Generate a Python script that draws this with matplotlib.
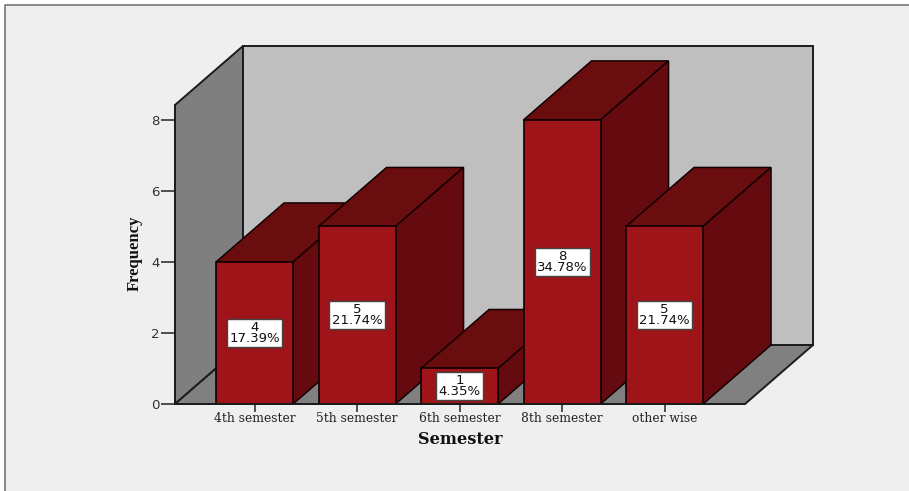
import matplotlib
matplotlib.use("Agg")
import matplotlib.pyplot as plt
from matplotlib.patches import Rectangle
from matplotlib.lines import Line2D

categories = ["4th semester", "5th semester", "6th semester", "8th semester", "other wise"]
counts = [4, 5, 1, 8, 5]
percents = ["17.39%", "21.74%", "4.35%", "34.78%", "21.74%"]
y_ticks = [0, 2, 4, 6, 8]

W, H = 909, 491
# axes box in pixels (front plane of the 3D box)
L, R, T, B = 175, 745, 105, 404
DX_PX, DY_PX = 68, 59
XMIN, XMAX = -0.776, 4.785
YMAX = 8.42
BAR_W = 77 / 102.5

FRONT, SIDE, TOP = "#9e1418", "#650b0f", "#6a0d0f"
WALL_L, WALL_B, FLOOR = "#7f7f7f", "#bfbfbf", "#808080"
EDGE = "#1c1c1c"

fig = plt.figure(figsize=(W / 100, H / 100), dpi=100, facecolor="white")
fig.add_artist(Rectangle((5 / W, 0), (W - 5) / W, (H - 5) / H, transform=fig.transFigure,
                         facecolor="#efefef", edgecolor="none", zorder=-5))
fig.add_artist(Line2D([5 / W, 5 / W, 1], [0, 1 - 5 / H, 1 - 5 / H], transform=fig.transFigure,
                      color="#6a6a6a", linewidth=1.1, zorder=-4))
ax = fig.add_axes([L / W, 1 - B / H, (R - L) / W, (B - T) / H])
ax.set_xlim(XMIN, XMAX)
ax.set_ylim(0, YMAX)
ax.patch.set_visible(False)

dx = DX_PX * (XMAX - XMIN) / (R - L)
dy = DY_PX * YMAX / (B - T)


def poly(xs, ys, fc, ec=EDGE, lw=1.4):
    ax.fill(xs, ys, facecolor=fc, edgecolor=ec, linewidth=lw, clip_on=False, joinstyle="miter")


# walls and floor
poly([XMIN, XMIN + dx, XMIN + dx, XMIN], [0, dy, YMAX + dy, YMAX], WALL_L)
poly([XMIN + dx, XMAX + dx, XMAX + dx, XMIN + dx], [dy, dy, YMAX + dy, YMAX + dy], WALL_B)
poly([XMIN, XMAX, XMAX + dx, XMIN + dx], [0, 0, dy, dy], FLOOR)

# bars, painted left to right so that each front hides its neighbour's side
for i, v in enumerate(counts):
    a, b = i - BAR_W / 2, i + BAR_W / 2
    poly([a, b, b + dx, a + dx], [v, v, v + dy, v + dy], TOP, ec="#120000", lw=1.1)
    poly([b, b + dx, b + dx, b], [0, dy, v + dy, v], SIDE, ec="#120000", lw=1.1)
    ax.bar(i, v, width=BAR_W, color=FRONT, edgecolor="#120000", linewidth=1.2, clip_on=False,
           zorder=2)
    ax.text(i, v / 2, f"{v}\n{percents[i]}", ha="center", va="center", fontsize=9.5,
            family="DejaVu Sans", linespacing=0.8, color="#111111", zorder=6,
            bbox=dict(boxstyle="square,pad=0.17", facecolor="white", edgecolor="#444444", linewidth=1.0))

for s in ("top", "right"):
    ax.spines[s].set_visible(False)
for s in ("left", "bottom"):
    ax.spines[s].set_color(EDGE)
    ax.spines[s].set_linewidth(1.4)

ax.set_xticks(range(len(categories)), categories, family="DejaVu Serif", fontsize=8.8, color="#222222")
ax.set_yticks(y_ticks)
ax.tick_params(axis="y", length=10, width=1.2, color="#333333", labelsize=9.6,
               labelcolor="#333333", pad=1)
ax.tick_params(axis="x", length=6, width=1.2, color="#333333", pad=0)
for t in ax.get_yticklabels():
    t.set_family("DejaVu Sans")

fig.text(460 / W, 1 - 440 / H, "Semester", family="DejaVu Serif", weight="bold", fontsize=11.6,
         ha="center", va="center", color="#111111")
fig.text(135 / W, 1 - 253 / H, "Frequency", family="Liberation Serif", weight="bold", fontsize=12,
         rotation=90, ha="center", va="center", color="#111111")

fig.savefig("out.png", dpi=100)
